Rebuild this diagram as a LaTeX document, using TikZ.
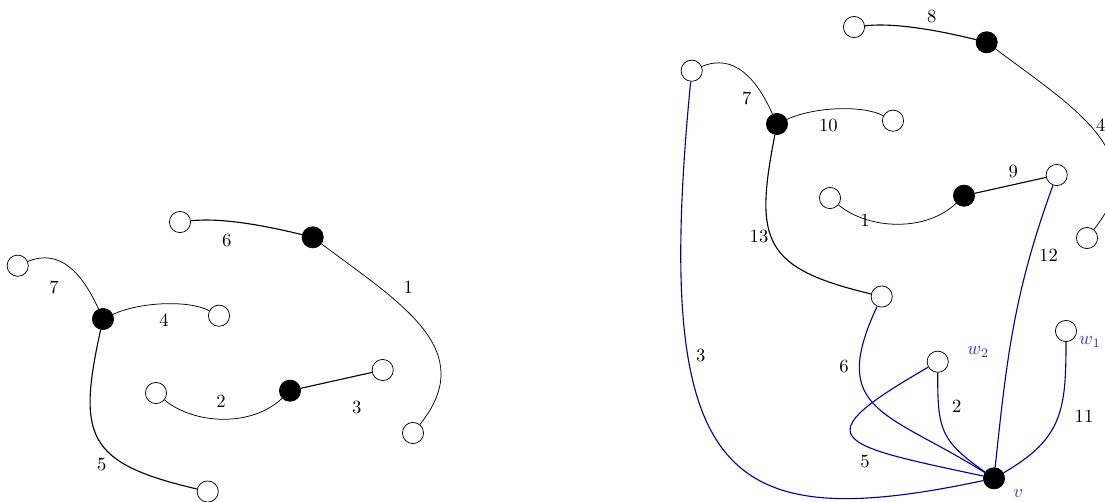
\documentclass[tikz,border=0pt]{standalone}
\usepackage{tikz}
\definecolor{edgeblue}{RGB}{0,0,155}
\definecolor{nameblue}{RGB}{55,55,185}

\begin{document}
\begin{tikzpicture}[x=0.01887cm, y=0.01887cm]

  \tikzset{
    wvtx/.style={circle, draw, fill=white, minimum size=0.4cm, inner sep=0pt},
    bvtx/.style={circle, draw, fill=black, minimum size=0.4cm, inner sep=0pt},
    bedge/.style={draw=edgeblue, semithick},
    vname/.style={text=nameblue}
  }

  \useasboundingbox (0,0) rectangle (1105,-501);
  \clip (0,0) rectangle (1105,-501);

  % left graph
  \node[wvtx] (p1) at (17.7,-265.7) {};
  \node[bvtx] (p2) at (103,-319) {};
  \node[wvtx] (p3) at (219,-315.7) {};
  \node[wvtx] (p4) at (180,-222) {};
  \node[bvtx] (p5) at (312.7,-237.3) {};
  \node[wvtx] (p6) at (156,-393) {};
  \node[bvtx] (p7) at (290,-390.7) {};
  \node[wvtx] (p8) at (382.7,-370) {};
  \node[wvtx] (p9) at (413,-433) {};
  \node[wvtx] (p10) at (207.7,-491.5) {};

  \draw (p1) .. controls (60,-248) and (82.5,-273.5) .. (p2);
  \draw (p2) .. controls (139.2,-302.1) and (187.8,-299.6) .. (p3);
  \draw[semithick] (p2) .. controls (77.2,-436.2) and (86,-463.1) .. (p10);
  \draw[semithick] (p4) .. controls (225,-217) and (275,-228) .. (p5);
  \draw (p5) .. controls (400.7,-303.3) and (480,-350) .. (p9);
  \draw (p6) .. controls (195,-425) and (252,-427) .. (p7);
  \draw[semithick] (p7) -- (p8);

  \node (a7) at (54,-287.3) {7};
  \node (a4) at (164,-320) {4};
  \node (a5) at (101.7,-464) {5};
  \node (a6) at (226.7,-240.7) {6};
  \node (a1) at (408.3,-287.3) {1};
  \node (a2) at (221,-401.7) {2};
  \node (a3) at (356.7,-407.3) {3};

  % right graph, same layout shifted
  \begin{scope}[shift={(674,195)}]
    \node[wvtx] (q1) at (180,-222) {};
    \node[bvtx] (q2) at (312.7,-237.3) {};
    \node[wvtx] (q3) at (17.7,-265.7) {};
    \node[bvtx] (q4) at (103,-319) {};
    \node[wvtx] (q5) at (219,-315.7) {};
    \node[wvtx] (q6) at (156,-393) {};
    \node[bvtx] (q7) at (290,-390.7) {};
    \node[wvtx] (q8) at (382.7,-370) {};
    \node[wvtx] (q9) at (413,-433) {};
    \node[wvtx] (q10) at (207.7,-491.5) {};

    \draw (q3) .. controls (60,-248) and (82.5,-273.5) .. (q4);
    \draw (q4) .. controls (139.2,-302.1) and (187.8,-299.6) .. (q5);
    \draw[semithick] (q4) .. controls (80,-436.2) and (89,-463.1) .. (q10);
    \draw[semithick] (q1) .. controls (225,-217) and (275,-228) .. (q2);
    \draw (q2) .. controls (400.7,-303.3) and (480,-350) .. (q9);
    \draw (q6) .. controls (195,-425) and (252,-427) .. (q7);
    \draw[semithick] (q7) -- (q8);
  \end{scope}

  \node[wvtx] (w2) at (937.7,-361.7) {};
  \node[wvtx] (w1) at (1066,-331) {};
  \node[bvtx] (v) at (994,-478.3) {};

  \draw[bedge] (q3) .. controls (652,-480) and (722,-536) .. (v);
  \draw[bedge] (q10) to[out=-115,in=148,looseness=1.5] (v);
  \draw[bedge] (w2) .. controls (803.5,-439.2) and (832.6,-444) .. (v);
  \draw[bedge] (w2) to[out=-90,in=145,looseness=1.3] (v);
  \draw[bedge] (q8) to[out=-110,in=84] (v);
  \draw[bedge] (w1) to[out=-90,in=30,looseness=1.2] (v);

  \node (b8) at (931.7,-16.7) {8};
  \node (b7) at (746.7,-98.3) {7};
  \node (b10) at (828.3,-125) {10};
  \node (b4) at (1100.7,-125) {4};
  \node (b9) at (1013.3,-171) {9};
  \node (b1) at (865,-220) {1};
  \node (b13) at (759,-236) {13};
  \node (b12) at (1048.5,-255.5) {12};
  \node (b3) at (700.7,-355) {3};
  \node (b6) at (844,-366) {6};
  \node (b2) at (956.7,-406) {2};
  \node (b11) at (1084,-416) {11};
  \node (b5) at (865,-461.7) {5};

  \node[vname] (nw2) at (978.3,-351.7) {$w_2$};
  \node[vname] (nw1) at (1090,-341.7) {$w_1$};
  \node[vname] (nv) at (1018.3,-493.3) {$v$};

\end{tikzpicture}
\end{document}
